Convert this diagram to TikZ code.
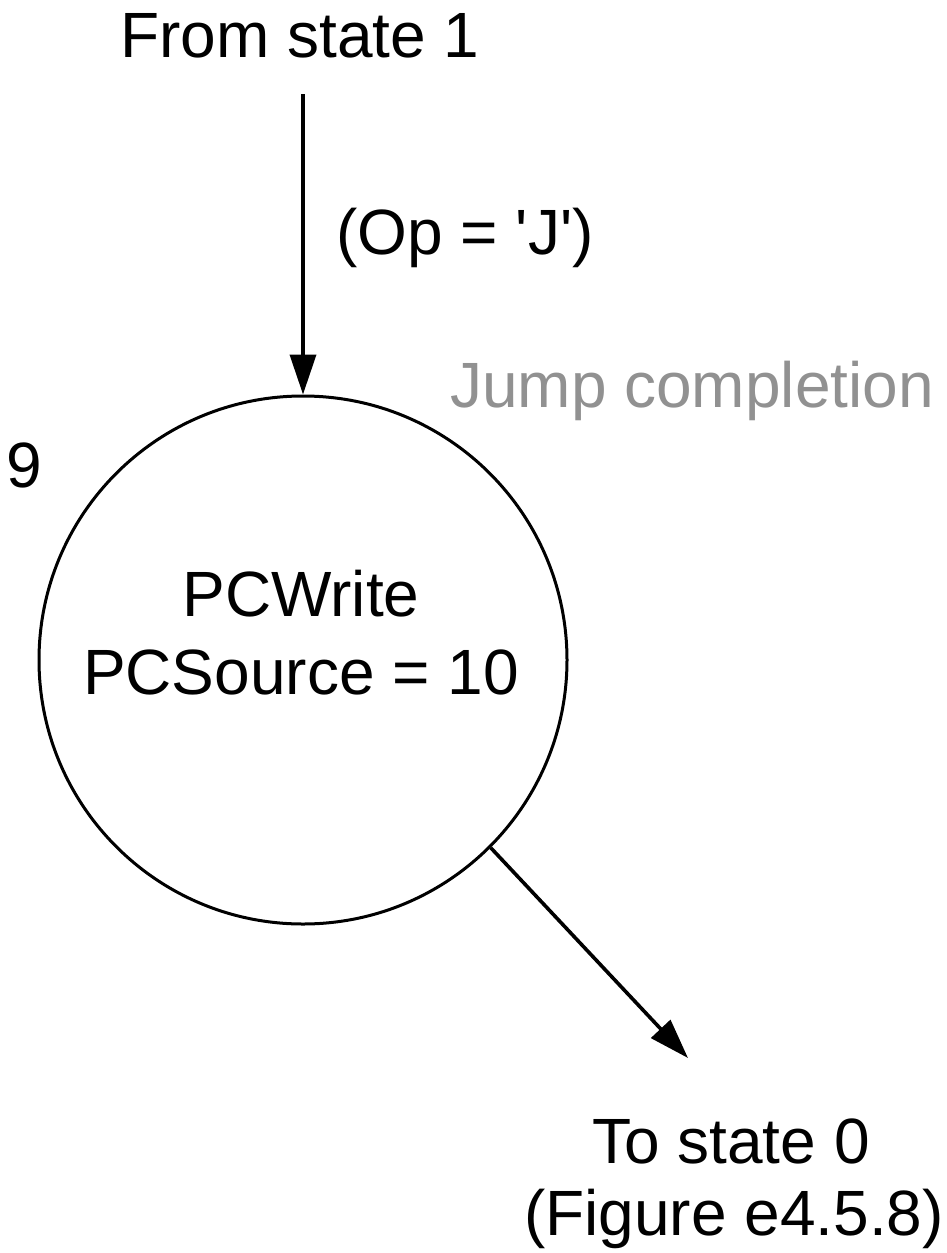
\documentclass[tikz,border=0pt]{standalone}
\usepackage{fontspec}
\setmainfont{Liberation Sans}
\usetikzlibrary{arrows.meta}
\definecolor{lightgraytext}{RGB}{145,145,145}
\begin{document}
\begin{tikzpicture}[x=1pt,y=-1pt,
  lbl/.style={font=\fontsize{64}{72}\selectfont, inner sep=0pt, text=black},
  conn/.style={line width=3.6pt, -{Triangle[length=40pt,width=26pt]}},
  statecircle/.style={circle, draw, line width=3pt, minimum size=528pt, inner sep=0pt}
]
\fill[white] (0,0) rectangle (947,1253);
\useasboundingbox (0,0) rectangle (947,1253);
\node[statecircle] (s9) at (303,660) {};
\node[lbl, anchor=base] (pcw) at (301,616) {PCWrite};
\node[lbl, anchor=base] (pcs) at (301,694) {PCSource = 10};
\node[lbl, anchor=base west] (num) at (6,487) {9};
\node[lbl, anchor=base] (from) at (300,57) {From state 1};
\node[lbl, anchor=base west] (cond) at (336,254) {(Op = \textquotesingle J\textquotesingle)};
\node[lbl, anchor=base west, text=lightgraytext] (name) at (450,407) {Jump completion};
\node[lbl, anchor=base] (to0) at (731,1163) {To state 0};
\node[lbl, anchor=base] (fig) at (734,1235) {(Figure e4.5.8)};
\coordinate (top) at (303,94);
\coordinate (outend) at (688,1058);
\draw[conn] (top) -- (s9.north);
\draw[conn] (s9.315) -- (outend);
\end{tikzpicture}
\end{document}
